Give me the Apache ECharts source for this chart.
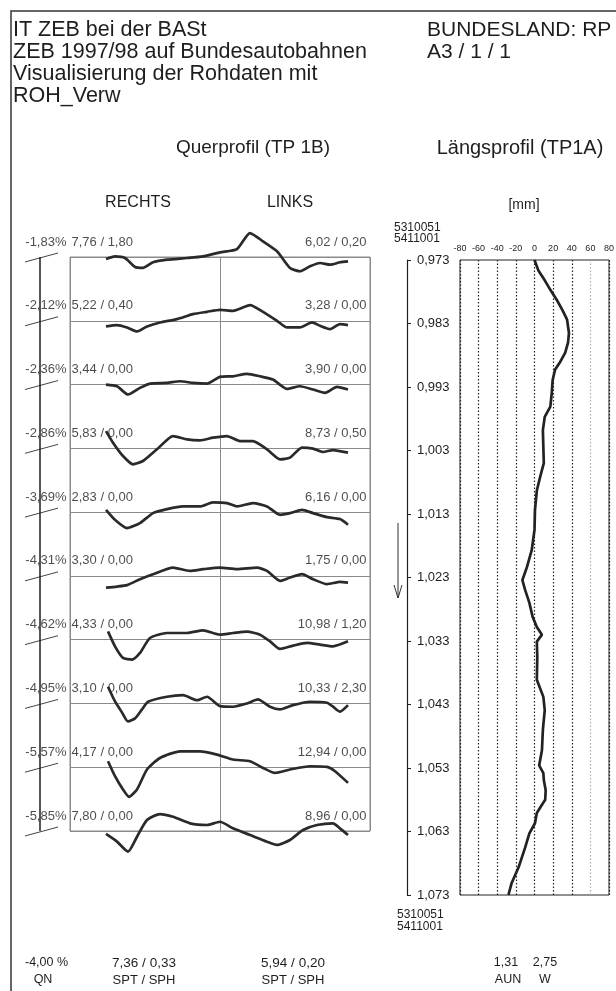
<!DOCTYPE html>
<html><head><meta charset="utf-8">
<script src="https://cdn.jsdelivr.net/npm/echarts@6/dist/echarts.min.js"></script>
<style>html,body{margin:0;padding:0;background:#fff}#c{width:616px;height:991px}</style>
</head><body><div id="c"></div>
<script>
// ---- Querprofil (TP 1B): cross slope, rut labels per strip ----
const qpSlope = ['-1,83%','-2,12%','-2,36%','-2,86%','-3,69%','-4,31%','-4,62%','-4,95%','-5,57%','-5,85%'];
const qpRechts = ['7,76 / 1,80','5,22 / 0,40','3,44 / 0,00','5,83 / 0,00','2,83 / 0,00','3,30 / 0,00','4,33 / 0,00','3,10 / 0,00','4,17 / 0,00','7,80 / 0,00'];
const qpLinks = ['6,02 / 0,20','3,28 / 0,00','3,90 / 0,00','8,73 / 0,50','6,16 / 0,00','1,75 / 0,00','10,98 / 1,20','10,33 / 2,30','12,94 / 0,00','8,96 / 0,00'];
// cross profiles: [lateral position, deviation from baseline]
const qp1 = [[-114,-2],[-105,0.7],[-95,-1],[-85,-10],[-77,-11],[-67,-5.3],[-53,-2.7],[-33,-1],[-17,0.7],[0,4.7],[17,8],[30,24],[43,15.7],[57,5.7],[70,-11],[80,-14.3],[90,-9.3],[100,-6],[110,-7.7],[120,-5.3],[128,-4.3]];
const qp2 = [[-114,-5.7],[-103,-4.3],[-93,-6.7],[-83,-10.7],[-73,-5.7],[-60,-1.7],[-43,1.7],[-27,6.7],[-13,9],[0,11],[13,10],[30,15.7],[43,9],[57,0],[67,-6.7],[80,-6.7],[92,-1.7],[100,-5],[110,-8.3],[120,-3.3],[128,-4.3]];
const qp3 = [[-114,0],[-103,-1.7],[-92,-10],[-80,-3.3],[-70,1],[-53,1.7],[-40,3.3],[-27,1.7],[-13,1],[0,7.7],[13,8.3],[27,10.7],[40,8.3],[53,5],[67,-4.3],[80,-1.7],[93,-5],[105,-8.3],[117,-2.3],[128,-5]];
const qp4 = [[-114,17.3],[-107,5.7],[-97,-7.7],[-87,-16],[-77,-12.7],[-63,-1],[-47,12.3],[-33,9],[-20,8],[-7,10.7],[7,12.3],[20,7.3],[33,7.3],[47,-1],[60,-11],[70,-9.3],[82,0.7],[93,-0.3],[103,-3.7],[113,-1.7],[128,-4.3]];
const qp5 = [[-114,2.3],[-105,-7.7],[-93,-16],[-80,-11],[-67,-1],[-53,3],[-37,5.7],[-20,5.7],[-7,9.7],[7,9],[17,5.7],[33,9],[47,5.7],[60,-2.7],[70,-1],[82,2.3],[93,-1],[107,-5],[120,-7],[128,-12.7]];
const qp6 = [[-114,-11.7],[-103,-10.7],[-93,-9.3],[-80,-3.3],[-67,1.7],[-47,8.3],[-30,5],[-17,6.7],[0,8.3],[17,6.7],[37,8.3],[47,5],[60,-5],[70,-1.7],[82,1.7],[93,-3.3],[107,-8.3],[120,-6],[128,-6.7]];
const qp7 = [[-112,8.3],[-105,-6.7],[-97,-18.3],[-88,-20],[-80,-13.3],[-70,1.7],[-53,6.7],[-33,6.7],[-17,9.3],[0,5],[13,6.7],[27,8],[40,5],[50,-1.7],[60,-9.3],[73,-6],[87,-3.3],[100,-5],[113,-6.7],[128,-1.7]];
const qp8 = [[-112,16.7],[-105,2],[-98,-9],[-92,-18],[-85,-15],[-78,-6],[-72,1.7],[-53,6.7],[-37,8.3],[-23,3.3],[-13,6.7],[0,-2.7],[13,-3.3],[27,0],[38,4],[50,-3.3],[60,-6],[73,-1.7],[90,1.7],[107,0.7],[113,-3.3],[120,-8.3],[128,-1.7]];
const qp9 = [[-112,6],[-105,-9],[-97,-22.3],[-91,-29.7],[-83,-22.3],[-73,-2.3],[-60,9.3],[-40,16],[-20,16],[-3,12.7],[13,7.7],[30,6],[43,-0.7],[55,-5.7],[70,-2.3],[90,1],[107,0.3],[115,-4],[128,-15.7]];
const qp10 = [[-114,-3],[-103,-10.7],[-92,-20.7],[-83,-5.7],[-73,11],[-60,17],[-47,14.3],[-30,7.7],[-13,6],[0,9.3],[13,2.7],[30,-4],[47,-10.7],[57,-14],[70,-9],[83,1],[97,6],[113,7.7],[120,2.7],[128,-4]];
const qpProfiles = [qp1,qp2,qp3,qp4,qp5,qp6,qp7,qp8,qp9,qp10];

// ---- Längsprofil (TP1A) ----
const lpKm = [0.973,0.9746,0.9762,0.9777,0.9793,0.9809,0.9824,0.9845,0.986,0.9876,0.9892,0.9903,0.9919,0.994,0.9961,0.9977,0.9998,1.0025,1.005,1.0072,1.0093,1.0124,1.0155,1.0187,1.0213,1.0234,1.025,1.027,1.0292,1.0308,1.032,1.0331,1.0355,1.0391,1.0418,1.0439,1.047,1.0502,1.0526,1.0538,1.0549,1.0565,1.058,1.0588,1.0601,1.0617,1.0633,1.0655,1.0686,1.0711,1.073];
const lpMm = [0,4,11,17,24,30,35,37,36,33,27,22,19.5,18.5,17,11,9,9.5,10,6,2.5,0.5,0,-3,-8,-13,-10,-5.5,-2,2.5,8,2.5,3,2.5,9.5,11,9,8,5,9.5,10,12,11.5,8,2.5,0.5,-5.5,-10,-17,-24.5,-28];
const kmStart = 0.973, kmEnd = 1.073;

// ---- text ----
const headerLeft = ['IT ZEB bei der BASt','ZEB 1997/98 auf Bundesautobahnen','Visualisierung der Rohdaten mit','ROH_Verw'];
const headerRight = ['BUNDESLAND: RP','A3 / 1 / 1'];
const stationIds = ['5310051','5411001'];
const summaryQN = ['-4,00 %','QN'];
const summaryRechts = ['7,36 / 0,33','SPT / SPH'];
const summaryLinks = ['5,94 / 0,20','SPT / SPH'];
const summaryLp = ['1,31','2,75'];
const summaryLpNames = ['AUN','W'];

const STRIP = 64;
const FONT = '"Liberation Sans", Arial, sans-serif';
const INK = '#1e1e1e';

const chart = echarts.init(document.getElementById('c'), null, {renderer:'canvas'});

const series = [];
// gutter: slope marks
qpSlope.forEach((s,i)=>{
  series.push({
    type:'line', xAxisIndex:0, yAxisIndex:0, symbol:'none', silent:true, clip:false,
    lineStyle:{color:'#444', width:1},
    data:[[15,-i*STRIP-5],[48,-i*STRIP+4]],
    markLine: i===0 ? {symbol:'none', silent:true, label:{show:false},
      lineStyle:{color:INK, width:1.5, type:'solid'}, data:[{xAxis:30}]} : undefined
  });
});
series.push({
  type:'scatter', xAxisIndex:0, yAxisIndex:0, symbolSize:1, itemStyle:{color:'rgba(0,0,0,0)'}, silent:true,
  data: qpSlope.map((s,i)=>({value:[57,-i*STRIP], name:s})),
  label:{show:true, position:'left', distance:0, offset:[0,-15], formatter:p=>p.name,
    color:INK, fontSize:13, fontFamily:FONT}
});
// cross profiles
qpProfiles.forEach((prof,i)=>{
  series.push({
    type:'line', xAxisIndex:1, yAxisIndex:1, symbol:'none', silent:true, clip:false,
    lineStyle:{color:'#2a2a2a', width:2.7}, smooth:0.2,
    data: prof.map(([x,d])=>[x, d - i*STRIP])
  });
});
series.push({
  type:'scatter', xAxisIndex:1, yAxisIndex:1, symbolSize:1, itemStyle:{color:'rgba(0,0,0,0)'}, silent:true,
  data: qpRechts.map((s,i)=>({value:[-150,-i*STRIP], name:s})),
  label:{show:true, position:'right', distance:0, offset:[1,-15], formatter:p=>p.name,
    color:INK, fontSize:13, fontFamily:FONT}
});
series.push({
  type:'scatter', xAxisIndex:1, yAxisIndex:1, symbolSize:1, itemStyle:{color:'rgba(0,0,0,0)'}, silent:true,
  data: qpLinks.map((s,i)=>({value:[150,-i*STRIP], name:s})),
  label:{show:true, position:'left', distance:0, offset:[-3,-15], formatter:p=>p.name,
    color:INK, fontSize:13, fontFamily:FONT}
});
// longitudinal profile
series.push({
  type:'line', xAxisIndex:2, yAxisIndex:2, symbol:'none', silent:true,
  lineStyle:{color:'#222', width:2.7},
  data: lpMm.map((v,i)=>[v, (lpKm[i]-kmStart)*1000])
});

const gridCommon = {containLabel:false, outerBoundsMode:'none'};
const txt = (text,x,y,size,align)=>({type:'text', x, y, silent:true,
  style:{text, font:`${size}px ${FONT}`, fill:INK, textAlign:align||'left', textVerticalAlign:'middle'}});

const graphics = [
  {type:'polyline', silent:true, shape:{points:[[11,991],[11,11],[616,11]]}, style:{stroke:'#333', lineWidth:1.5, fill:null}},
  // direction arrow
  {type:'line', silent:true, shape:{x1:398,y1:523,x2:398,y2:598}, style:{stroke:'#333', lineWidth:1}},
  {type:'polyline', silent:true, shape:{points:[[394,585],[398,598],[402,585]]}, style:{stroke:'#333', lineWidth:1, fill:null}}
];
headerLeft.forEach((t,i)=>graphics.push(txt(t,13,30+i*22,21.5)));
headerRight.forEach((t,i)=>graphics.push(txt(t,427,30+i*22,21)));
graphics.push(txt('Querprofil (TP 1B)',253,148,19,'center'));
graphics.push(txt('Längsprofil (TP1A)',520,148,20,'center'));
graphics.push(txt('RECHTS',138,203,16,'center'));
graphics.push(txt('LINKS',290,203,16,'center'));
graphics.push(txt('[mm]',524,205,14,'center'));
stationIds.forEach((t,i)=>graphics.push(txt(t,394,228+i*11,12)));
stationIds.forEach((t,i)=>graphics.push(txt(t,397,915+i*12,12)));
graphics.push(txt(summaryQN[0],25,963,12.5));
graphics.push(txt(summaryQN[1],43,980,12.5,'center'));
graphics.push(txt(summaryRechts[0],144,963,13.5,'center'));
graphics.push(txt(summaryRechts[1],144,980,13,'center'));
graphics.push(txt(summaryLinks[0],293,963,13.5,'center'));
graphics.push(txt(summaryLinks[1],293,980,13,'center'));
graphics.push(txt(summaryLp[0],506,963,12.5,'center'));
graphics.push(txt(summaryLp[1],545,963,12.5,'center'));
graphics.push(txt(summaryLpNames[0],508,980,12.5,'center'));
graphics.push(txt(summaryLpNames[1],545,980,12.5,'center'));

const gridLineColors = ['#222','#222','#222','#222','#222','#222','#222','#aaa','#222'];

chart.setOption({
  backgroundColor:'#fff',
  animation:false,
  textStyle:{fontFamily:FONT},
  grid:[
    Object.assign({left:10, right:546, top:257, bottom:160, show:false}, gridCommon),
    Object.assign({left:70, right:246, top:257, bottom:160, show:true, borderColor:'#8a8a8a', borderWidth:1, backgroundColor:'transparent'}, gridCommon),
    Object.assign({left:460, right:7, top:260, bottom:96, show:true, borderColor:'#222', borderWidth:1, backgroundColor:'transparent'}, gridCommon)
  ],
  xAxis:[
    {gridIndex:0, type:'value', min:0, max:60, show:false},
    {gridIndex:1, type:'value', min:-150, max:150, interval:150, axisLine:{show:false}, axisTick:{show:false}, axisLabel:{show:false},
      splitLine:{show:true, lineStyle:{color:'#8a8a8a', width:1}}},
    {gridIndex:2, type:'value', min:-80, max:80, interval:20, position:'top',
      axisLine:{show:false, onZero:false}, axisTick:{show:false},
      axisLabel:{show:true, fontSize:9, color:INK, margin:7, fontFamily:FONT},
      splitLine:{show:true, lineStyle:{color:gridLineColors, width:1.2, type:[1.5,2]}}}
  ],
  yAxis:[
    {gridIndex:0, type:'value', min:-9*STRIP, max:0, show:false},
    {gridIndex:1, type:'value', min:-9*STRIP, max:0, interval:STRIP, axisLine:{show:false}, axisTick:{show:false}, axisLabel:{show:false},
      splitLine:{show:true, lineStyle:{color:'#8a8a8a', width:1}}},
    {gridIndex:2, type:'value', min:0, max:(kmEnd-kmStart)*1000, interval:10, inverse:true, position:'left', offset:53,
      axisLine:{show:true, onZero:false, lineStyle:{color:INK, width:1.2}},
      axisTick:{show:true, inside:true, length:4, lineStyle:{color:INK}},
      axisLabel:{show:true, inside:true, margin:10, fontSize:13, color:INK, fontFamily:FONT,
        formatter:v=>(kmStart + v/1000).toFixed(3).replace('.',',')},
      splitLine:{show:false}}
  ],
  series,
  graphic:graphics
});
</script>
</body></html>
